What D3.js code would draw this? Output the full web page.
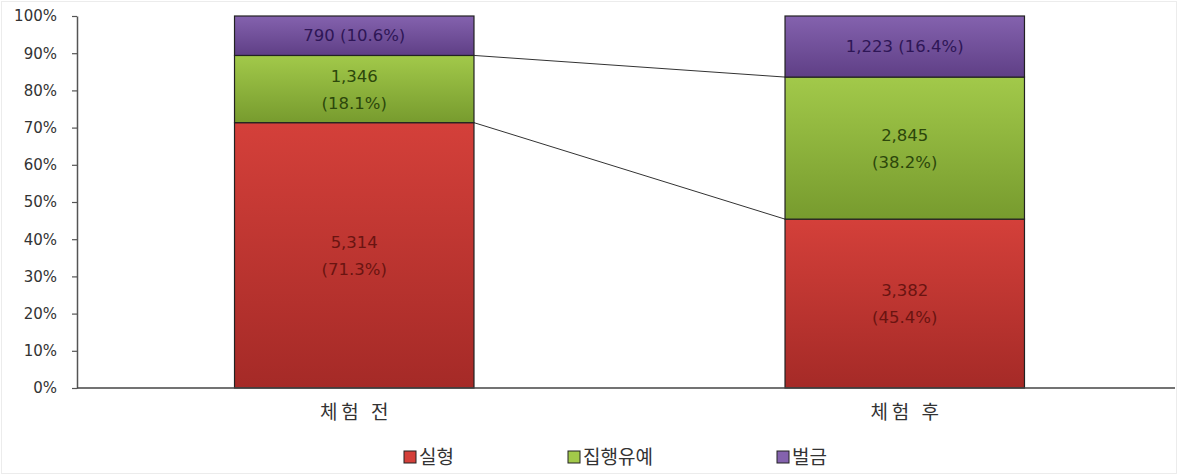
<!DOCTYPE html>
<html><head><meta charset="utf-8">
<script src="https://cdn.jsdelivr.net/npm/d3@7"></script>
<style>body{margin:0;background:#fff}svg{display:block}</style>
</head><body>
<script>
const categories = ["체험 전", "체험 후"];
const seriesNames = ["실형", "집행유예", "벌금"];
const silhyeong = [5314, 3382];
const jiphaeng = [1346, 2845];
const beolgeum = [790, 1223];
const tickLabels = ["0%","10%","20%","30%","40%","50%","60%","70%","80%","90%","100%"];

const W = 1178, H = 475;
const m = {left: 77, right: 0, top: 16, bottom: 87};
const svg = d3.select("body").append("svg").attr("width", W).attr("height", H);

const colors = [
  {top:"#d4403a", bot:"#a52a27", text:"#6a1411"},
  {top:"#a2c94a", bot:"#779b2e", text:"#2c470b"},
  {top:"#8462ae", bot:"#5f3f86", text:"#2e1656"}
];
const defs = svg.append("defs");
colors.forEach((c,i)=>{
  const g = defs.append("linearGradient").attr("id","g"+i).attr("x1",0).attr("x2",0).attr("y1",0).attr("y2",1);
  g.append("stop").attr("offset","0%").attr("stop-color",c.top);
  g.append("stop").attr("offset","100%").attr("stop-color",c.bot);
});

svg.append("rect").attr("x",1.5).attr("y",1.5).attr("width",W-3).attr("height",H-3).attr("fill","none").attr("stroke","#ececec");

const x = d3.scaleBand().domain(categories).range([m.left + 2, W - m.right + 2]).paddingInner(0.565).paddingOuter(0.2825);
const y = d3.scaleLinear().domain([0,1]).range([H - m.bottom, m.top]);

const seriesVals = [silhyeong, jiphaeng, beolgeum];
const totals = categories.map((c,i)=>d3.sum(seriesVals, s=>s[i]));
const stacked = seriesVals.map((s,si)=>categories.map((c,ci)=>{
  const y0 = d3.sum(seriesVals.slice(0,si), t=>t[ci]) / totals[ci];
  return {cat:c, si, v:s[ci], y0, y1: y0 + s[ci]/totals[ci], pct: s[ci]/totals[ci]};
}));

// axis
const yAxis = d3.axisLeft(y).tickValues(d3.range(0,11).map(d=>d/10)).tickFormat((d,i)=>tickLabels[i]).tickSize(5).tickSizeOuter(0);
const ga = svg.append("g").attr("transform",`translate(${m.left},0)`).call(yAxis);
ga.select(".domain").attr("stroke","#555").attr("stroke-width",1.5);
ga.selectAll(".tick line").attr("stroke","#555").attr("stroke-width",1.2);
ga.selectAll("text").attr("font-family","Verdana, 'DejaVu Sans', sans-serif").attr("font-size",15).attr("fill","#333").attr("x",-20);

// bars
stacked.forEach((ser,si)=>{
  svg.append("g").selectAll("rect").data(ser).join("rect")
    .attr("x",d=>x(d.cat)).attr("width",x.bandwidth())
    .attr("y",d=>y(d.y1)).attr("height",d=>y(d.y0)-y(d.y1))
    .attr("fill","url(#g"+si+")").attr("stroke","#222").attr("stroke-width",1.2);
});

// series lines
[0,1].forEach(si=>{
  const a = stacked[si][0], b = stacked[si][1];
  svg.append("line")
    .attr("x1", x(a.cat)+x.bandwidth()).attr("y1", y(a.y1))
    .attr("x2", x(b.cat)).attr("y2", y(b.y1))
    .attr("stroke","#333").attr("stroke-width",1);
});

// x axis line
svg.append("line").attr("x1",m.left).attr("x2",W-3).attr("y1",y(0)).attr("y2",y(0)).attr("stroke","#444").attr("stroke-width",1.5);

// labels
const fmt = d3.format(",");
stacked.forEach((ser,si)=>{
  ser.forEach(d=>{
    const cx = x(d.cat)+x.bandwidth()/2, cy = (y(d.y0)+y(d.y1))/2;
    const t = svg.append("text").attr("x",cx).attr("text-anchor","middle")
      .attr("font-family","Verdana, 'DejaVu Sans', sans-serif").attr("font-size",16.5).attr("fill",colors[si].text);
    const p = "(" + (d.pct*100).toFixed(1) + "%)";
    if (si === 2) {
      t.attr("y",cy).attr("dy","0.35em").text(fmt(d.v) + " " + p);
    } else {
      t.append("tspan").attr("x",cx).attr("y",cy-13).attr("dy","0.35em").text(fmt(d.v));
      t.append("tspan").attr("x",cx).attr("y",cy+14).attr("dy","0.35em").text(p);
    }
  });
});

// category labels
svg.append("g").selectAll("text").data(categories).join("text")
  .attr("x",d=>x(d)+x.bandwidth()/2 + 2).attr("y",419).attr("text-anchor","middle")
  .attr("font-family","'Noto Sans CJK KR', sans-serif").attr("font-size",19).attr("letter-spacing","4px").attr("fill","#333").text(d=>d);

// legend
const legX = [404, 568, 777];
const lg = svg.append("g").selectAll("g").data(seriesNames).join("g").attr("transform",(d,i)=>`translate(${legX[i]},457)`);
lg.append("rect").attr("x",0).attr("y",-6).attr("width",12).attr("height",12).attr("fill",(d,i)=>colors[i].top).attr("stroke","#222").attr("stroke-width",1);
lg.append("text").attr("x",15).attr("y",0).attr("dy","0.36em").attr("font-family","'Noto Sans CJK KR', sans-serif").attr("font-size",19).attr("fill","#333").text(d=>d);
</script>
</body></html>
